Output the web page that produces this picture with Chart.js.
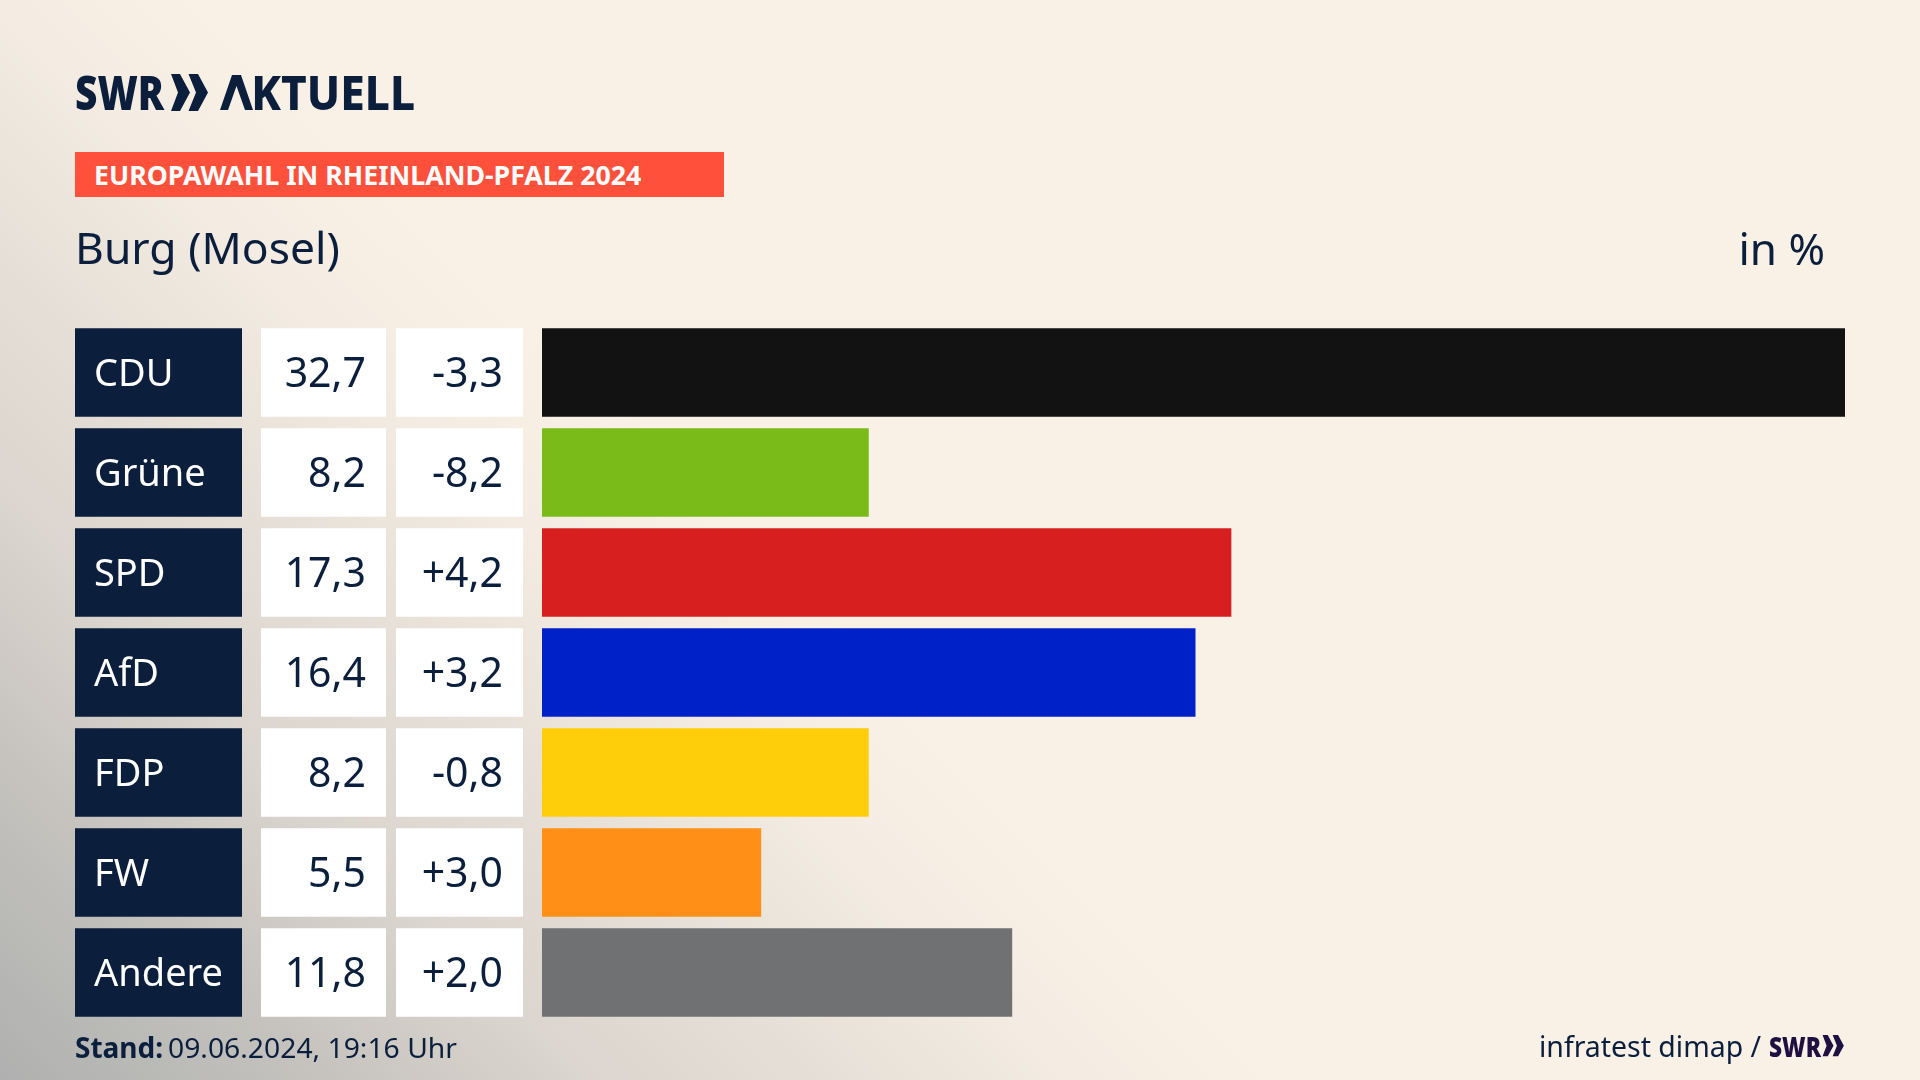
<!DOCTYPE html>
<html lang="de"><head><meta charset="utf-8">
<script src="https://cdn.jsdelivr.net/npm/chart.js@4"></script>
<style>
html,body{margin:0;padding:0;width:1920px;height:1080px;overflow:hidden}
body{position:relative;background:linear-gradient(45deg,#B0B0B0 0,#BABAB7 127px,#CAC6C1 269px,#DAD5CE 410px,#E4DDD5 552px,#F4ECE2 764px,#FAF1E6 919px);
 font-family:"Noto Sans",sans-serif;color:#0B1F3D}
canvas{position:absolute;left:0;top:0}
.t{position:absolute;white-space:nowrap;transform-origin:left center;line-height:1}
svg{position:absolute}
</style></head><body>
<canvas id="c" width="1920" height="1080"></canvas>
<div class="t" id="logo1" style="left:75px;top:68px;font-size:48px;font-weight:900;transform:scaleX(.81)">SWR</div>
<svg style="left:170px;top:74px" width="40" height="38" viewBox="0 0 40 38"><path d="M1 0 L10 0 L20 18.5 L10 37 L1 37 L8 18.5Z M18.5 0 L28 0 L38 18.5 L28 37 L18.5 37 L26 18.5Z" fill="#0B1F3D"/></svg>
<div class="t" id="logo2" style="left:220px;top:68px;font-size:48px;font-weight:800;transform:scaleX(.92)"><span style="color:transparent">A</span>KTUELL</div>
<svg style="left:218px;top:73px" width="38" height="39" viewBox="218 73 38 39"><path d="M220 110 L232 75 L241 75 L253 110 L245 110 L236.5 86 L228 110Z" fill="#0B1F3D"/></svg>
<div style="position:absolute;left:75px;top:152px;width:649px;height:45px;background:#FF503C"></div>
<div class="t" id="banner" style="left:94px;top:161px;font-size:27px;font-weight:700;color:#fff;transform:scaleX(.99)">EUROPAWAHL IN RHEINLAND-PFALZ 2024</div>
<div class="t" id="place" style="left:75px;top:225px;font-size:44px;transform:scaleX(1.01)">Burg (Mosel)</div>
<div class="t" id="unit" style="right:95px;top:226px;font-size:44px">in %</div>
<div class="t" id="stand" style="left:75px;top:1033px;font-size:28px;font-weight:700;transform:scaleX(1)">Stand:</div>
<div class="t" id="date" style="left:168px;top:1033px;font-size:28px;transform:scaleX(1.01)">09.06.2024, 19:16 Uhr</div>
<div class="t" id="src" style="left:1539px;top:1031px;font-size:29px;transform:scaleX(.98)">infratest dimap /</div>
<div class="t" id="swr2" style="left:1769px;top:1032px;font-size:28px;font-weight:900;color:#1E1040;transform:scaleX(.81)">SWR</div>
<svg style="left:1822px;top:1035px" width="23" height="22" viewBox="0 0 40 38"><path d="M1 0 L10 0 L20 18.5 L10 37 L1 37 L8 18.5Z M18.5 0 L28 0 L38 18.5 L28 37 L18.5 37 L26 18.5Z" fill="#1E1040"/></svg>
<script>
const parties=["CDU","Grüne","SPD","AfD","FDP","FW","Andere"];
const shares=[32.7,8.2,17.3,16.4,8.2,5.5,11.8];
const changes=[-3.3,-8.2,4.2,3.2,-0.8,3.0,2.0];
const colours=["#121212","#7ABB1A","#D81F1F","#0020C8","#FFCE0A","#FF8F17","#707173"];
const fmt=v=>v.toFixed(1).replace(".",",");
const sgn=v=>(v>0?"+":"")+fmt(v);
const NAVY="#0B1F3D";
const ROW=0.885;
const table={id:"table",
 beforeDatasetsDraw(ch){
  const {ctx,scales:{y}}=ch;
  const h=y.getPixelForValue(1)-y.getPixelForValue(0);
  const bh=h*ROW;
  ctx.save();
  parties.forEach((p,i)=>{
   const top=y.getPixelForValue(i)-bh/2;
   ctx.fillStyle="#fff";
   ctx.fillRect(261,top,125,bh);
   ctx.fillRect(396,top,127,bh);
   ctx.fillStyle=NAVY;
   ctx.font='41px "Noto Sans"';
   ctx.textAlign="right";ctx.textBaseline="alphabetic";
   const base=y.getPixelForValue(i)+14.5;
   ctx.fillText(fmt(shares[i]),366,base);
   ctx.fillText(sgn(changes[i]),503,base);
  });
  ctx.restore();
 },
 beforeDraw(ch){
  const {ctx,scales:{y}}=ch;
  const h=y.getPixelForValue(1)-y.getPixelForValue(0);
  const bh=h*ROW;
  ctx.save();ctx.fillStyle=NAVY;
  parties.forEach((p,i)=>ctx.fillRect(75,y.getPixelForValue(i)-bh/2,167,bh));
  ctx.restore();
 }};
Chart.defaults.font.family='"Noto Sans"';
new Chart(document.getElementById("c"),{type:"bar",
 data:{labels:parties,datasets:[{data:shares,backgroundColor:colours,barPercentage:ROW,categoryPercentage:1}]},
 options:{indexAxis:"y",responsive:false,animation:false,devicePixelRatio:1,
  layout:{padding:{left:94,right:75,top:322.5,bottom:57.5}},
  plugins:{legend:{display:false},tooltip:{enabled:false}},
  scales:{
   x:{display:false,min:0,max:32.7},
   y:{afterFit(s){s.width=448},grid:{display:false},border:{display:false},
      ticks:{crossAlign:"far",color:"#fff",autoSkip:false,labelOffset:2.5,font:{size:38,family:'"Noto Sans"'},padding:0}}
  }},plugins:[table]});
</script></body></html>
